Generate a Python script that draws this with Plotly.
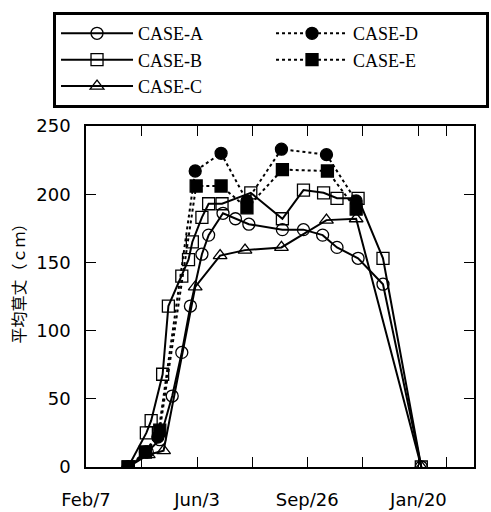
import plotly.graph_objects as go

# Days counted from Feb/7; heights in cm
tick_days = [0, 116, 231, 347]
tick_text = ["Feb/7", "Jun/3", "Sep/26", "Jan/20"]

a_day = [44, 64, 77, 90, 100, 109, 121, 128, 143, 156, 170, 205, 227, 247, 262, 284, 310, 350]
a_val = [0, 11, 20, 52, 84, 118, 156, 170, 186, 182, 178, 174, 174, 170, 161, 153, 134, 0]

b_day = [44, 63, 68, 80, 86, 100, 107, 111, 121, 128, 142, 172, 205, 227, 248, 262, 284, 310, 350]
b_val = [0, 25, 34, 68, 118, 140, 152, 165, 183, 193, 193, 201, 182, 203, 201, 197, 197, 153, 0]

c_day = [44, 65, 81, 114, 140, 166, 204, 251, 282, 350]
c_val = [0, 9, 12, 132, 155, 159, 161, 181, 182, 0]

d_day = [44, 62, 75, 114, 141, 168, 204, 251, 282]
d_val = [0, 11, 22, 217, 230, 195, 233, 229, 195]

e_day = [44, 62, 77, 115, 141, 168, 205, 252, 282]
e_val = [0, 11, 27, 206, 206, 190, 218, 217, 189]

series = [
    ("CASE-A", a_day, a_val, "circle-open", "solid", 1),
    ("CASE-B", b_day, b_val, "square-open", "solid", 3),
    ("CASE-C", c_day, c_val, "triangle-up-open", "solid", 5),
    ("CASE-D", d_day, d_val, "circle", "dot", 2),
    ("CASE-E", e_day, e_val, "square", "dot", 4),
]

fig = go.Figure()
for name, xs, ys, sym, dash, rank in series:
    fig.add_trace(go.Scatter(
        x=xs, y=ys, name=name, mode="lines+markers",
        line=dict(color="black", width=2, dash=dash),
        marker=dict(symbol=sym, size=12, color="black",
                    line=dict(color="black", width=1.3)),
        legendrank=rank,
    ))

# minor ticks halfway between the labelled dates
all_ticks = []
all_text = []
for i, d in enumerate(tick_days):
    all_ticks.append(d)
    all_text.append(tick_text[i])
    nxt = tick_days[i + 1] if i + 1 < len(tick_days) else 405
    all_ticks.append((d + nxt) / 2)
    all_text.append("")

axis_common = dict(
    showline=True, linecolor="black", linewidth=1.5, mirror="ticks",
    ticks="inside", ticklen=10, tickwidth=1.3, tickcolor="black",
    showgrid=False, zeroline=False, automargin=False,
    tickfont=dict(family="DejaVu Sans, Verdana", size=18, color="black"),
)

fig.update_xaxes(range=[0, 405], tickvals=all_ticks, ticktext=all_text,
                 ticklabelstandoff=16, **axis_common)
fig.update_yaxes(range=[0, 250], tickvals=[0, 50, 100, 150, 200, 250],
                 ticklabelstandoff=10, **axis_common)

fig.add_annotation(
    text="平均草丈（ｃｍ）", textangle=-90, showarrow=False,
    xref="paper", yref="paper", x=-0.175, y=0.55,
    xanchor="center", yanchor="middle",
    font=dict(family="Noto Sans CJK JP", size=16, color="black"),
)

fig.update_layout(
    width=491, height=512,
    margin=dict(l=86, r=17, t=123, b=45),
    paper_bgcolor="white", plot_bgcolor="white",
    showlegend=True,
    legend=dict(
        orientation="h", x=-0.085, y=1.334, xanchor="left", yanchor="top",
        entrywidth=128, entrywidthmode="pixels", itemwidth=72,
        bgcolor="white", bordercolor="black", borderwidth=3,
        font=dict(family="Liberation Serif, Times New Roman", size=18, color="black"),
    ),
)

fig.write_html("out.html")
